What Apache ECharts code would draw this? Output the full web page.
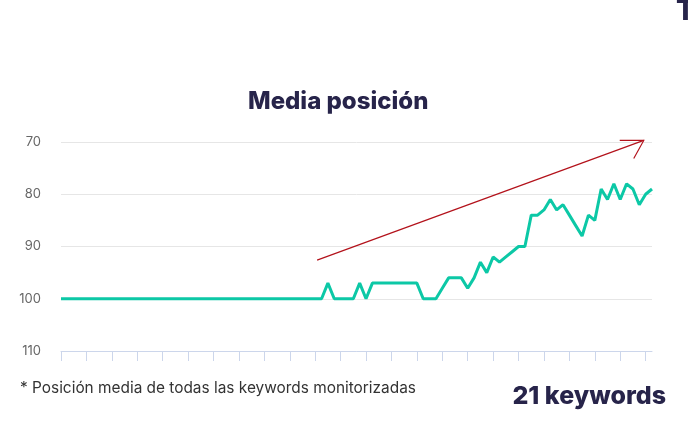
<!DOCTYPE html>
<html>
<head>
<meta charset="utf-8">
<script src="https://cdn.jsdelivr.net/npm/echarts@6/dist/echarts.min.js"></script>
<style>
  html, body { margin: 0; padding: 0; background: #fff; }
  #main { width: 688px; height: 441px; }
</style>
</head>
<body>
<div id="main"></div>
<script>
// posicion media diaria (94 puntos)
var posiciones = [
  100, 100, 100, 100, 100, 100, 100, 100, 100, 100,
  100, 100, 100, 100, 100, 100, 100, 100, 100, 100,
  100, 100, 100, 100, 100, 100, 100, 100, 100, 100,
  100, 100, 100, 100, 100, 100, 100, 100, 100, 100,
  100, 100, 97, 100, 100, 100, 100, 97, 100, 97,
  97, 97, 97, 97, 97, 97, 97, 100, 100, 100,
  98, 96, 96, 96, 98, 96, 93, 95, 92, 93,
  92, 91, 90, 90, 84, 84, 83, 81, 83, 82,
  84, 86, 88, 84, 85, 79, 81, 78, 81, 78,
  79, 82, 80, 79
];
var dias = posiciones.map(function (v, i) { return 'd' + (i + 1); });
var yTicks = [70, 80, 90, 100, 110];
// flecha de tendencia (indice de dia, posicion)
var flechaDesde = [40.3, 92.6];
var flechaHasta = [91.7, 69.7];

var myChart = echarts.init(document.getElementById('main'));

var option = {
  backgroundColor: '#fff',
  animation: false,
  title: {
    text: 'Media posición',
    left: 243,
    top: 85,
    textStyle: { fontFamily: 'Inter', fontWeight: 800, fontSize: 24, color: '#27244a' }
  },
  grid: { left: 61, right: 36, top: 142, bottom: 90 },
  xAxis: {
    type: 'category',
    data: dias,
    boundaryGap: false,
    axisLine: { onZero: false, lineStyle: { color: '#ccd6eb', width: 1 } },
    axisTick: { show: true, interval: 3, length: 10, lineStyle: { color: '#ccd6eb' } },
    axisLabel: { show: false },
    splitLine: { show: false }
  },
  yAxis: {
    type: 'value',
    inverse: true,
    min: yTicks[0],
    max: yTicks[yTicks.length - 1],
    interval: 10,
    axisLine: { show: false },
    axisTick: { show: false },
    axisLabel: { color: '#666', fontSize: 13, fontFamily: 'Inter', margin: 20 },
    splitLine: { lineStyle: { color: '#e6e6e6' } }
  },
  series: [{
    type: 'line',
    data: posiciones,
    showSymbol: false,
    lineStyle: { color: '#0cc8a6', width: 3 },
    itemStyle: { color: '#0cc8a6' }
  }],
  graphic: [
    {
      id: 'nota', type: 'text', left: 20, top: 381,
      style: { text: '* Posición media de todas las keywords monitorizadas', fill: '#333', fontSize: 15.4, fontFamily: 'Inter' }
    },
    {
      id: 'total', type: 'text', right: 22, top: 384,
      style: { text: '21 keywords', fill: '#27244a', fontSize: 25, fontWeight: 800, fontFamily: 'Inter' }
    },
    {
      id: 'corte', type: 'text', left: 676, top: -2,
      style: { text: 'T', fill: '#27244a', fontSize: 28, fontWeight: 800, fontFamily: 'Inter' }
    }
  ]
};
myChart.setOption(option);

// pasar (indice fraccionario, valor) a pixeles, usando el primer y ultimo dia
var n = dias.length - 1;
function aPixel(p) {
  var a = myChart.convertToPixel({ seriesIndex: 0 }, [dias[0], p[1]]);
  var b = myChart.convertToPixel({ seriesIndex: 0 }, [dias[n], p[1]]);
  return [a[0] + (b[0] - a[0]) * p[0] / n, a[1]];
}

// dibujar la flecha roja
var p1 = aPixel(flechaDesde);
var p2 = aPixel(flechaHasta);
var rojo = '#b3121b';
myChart.setOption({
  graphic: [
    { id: 'flecha', type: 'polyline', z: 20, shape: { points: [p1, p2] }, style: { stroke: rojo, lineWidth: 1.2, fill: null } },
    { id: 'punta', type: 'polyline', z: 20, shape: { points: [[p2[0] - 24, p2[1]], p2, [p2[0] - 10, p2[1] + 18]] }, style: { stroke: rojo, lineWidth: 1.2, fill: null } }
  ]
});
</script>
</body>
</html>
